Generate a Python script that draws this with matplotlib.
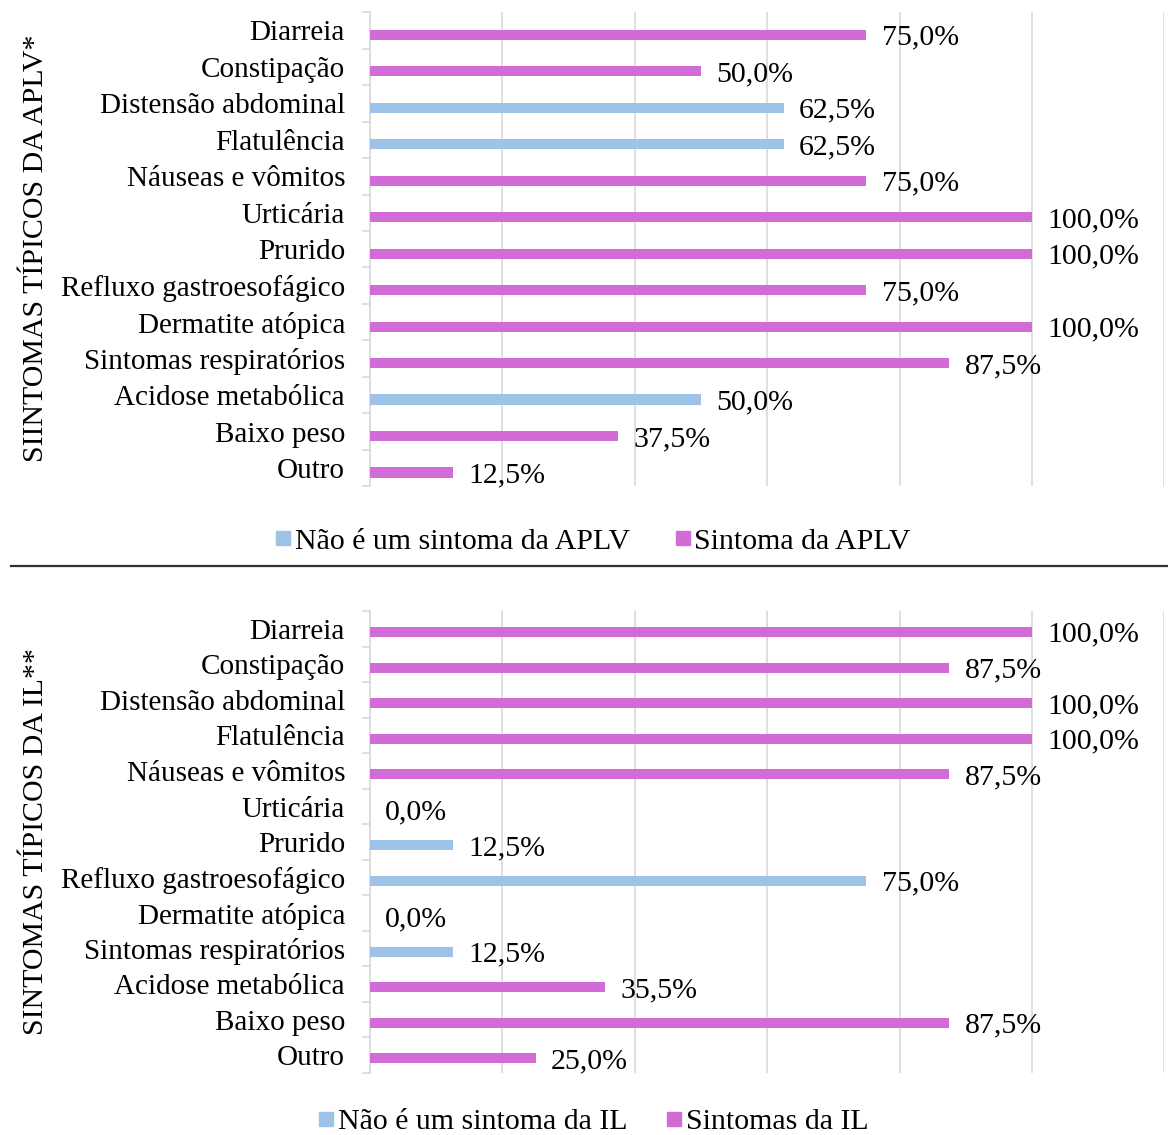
import matplotlib.pyplot as plt
from matplotlib.lines import Line2D
import numpy as np

plt.rcParams['font.family'] = ['Liberation Serif', 'DejaVu Serif']

# -------- Data --------
sintomas = ["Diarreia", "Constipação", "Distensão abdominal", "Flatulência",
            "Náuseas e vômitos", "Urticária", "Prurido", "Refluxo gastroesofágico",
            "Dermatite atópica", "Sintomas respiratórios", "Acidose metabólica",
            "Baixo peso", "Outro"]

aplv_pct = [75.0, 50.0, 62.5, 62.5, 75.0, 100.0, 100.0, 75.0, 100.0, 87.5, 50.0, 37.5, 12.5]
aplv_e_sintoma = [True, True, False, False, True, True, True, True, True, True, False, True, True]

il_pct = [100.0, 87.5, 100.0, 100.0, 87.5, 0.0, 12.5, 75.0, 0.0, 12.5, 35.5, 87.5, 25.0]
il_e_sintoma = [True, True, True, True, True, False, False, False, False, False, True, True, True]

cor_nao = "#9DC3E6"
cor_sim = "#D36BD7"
cor_grade = "#D9D9D9"
fs = 21.5


def fmt_pct(v):
    return f"{v:.1f}%".replace(".", ",")


def painel(ax, valores, flags, desloc):
    y = np.arange(len(sintomas))
    cores = [cor_sim if f else cor_nao for f in flags]
    # bars sit a little below the category centre, like a two-series clustered bar
    yb = y + desloc
    ax.barh(yb, valores, height=0.28, color=cores, zorder=3)
    for yi, v in zip(yb, valores):
        ax.annotate(fmt_pct(v), (v, yi), xytext=(11, -2), textcoords="offset points",
                    ha="left", va="center", fontsize=fs, zorder=4)
    ax.set_xlim(0, 120)
    ax.set_ylim(len(sintomas) - 0.5, -0.5)
    ax.set_yticks(y)
    ax.set_yticklabels(sintomas, fontsize=21)
    ax.set_yticks(np.arange(-0.5, len(sintomas)), minor=True)
    ax.tick_params(axis="y", which="major", length=0, pad=18)
    ax.tick_params(axis="y", which="minor", length=6, color=cor_grade, width=1.2)
    ax.set_xticks(np.arange(0, 121, 20))
    ax.tick_params(axis="x", length=0, labelbottom=False)
    ax.grid(axis="x", color=cor_grade, linewidth=1.2, zorder=0)
    for s in ["top", "right", "bottom"]:
        ax.spines[s].set_visible(False)
    ax.spines["left"].set_color(cor_grade)
    ax.spines["left"].set_linewidth(1.2)


fig = plt.figure(figsize=(11.68, 11.35), dpi=100)

ax1 = fig.add_axes([0.3168, 0.5714, 0.6801, 0.418])
painel(ax1, aplv_pct, aplv_e_sintoma, 0.12)
ax2 = fig.add_axes([0.3168, 0.0546, 0.6801, 0.407])
painel(ax2, il_pct, il_e_sintoma, 0.09)

fig.text(0.031, 0.7815, "SIINTOMAS TÍPICOS DA APLV*", rotation=90,
         ha="center", va="center", fontsize=fs)
fig.text(0.031, 0.259, "SINTOMAS TÍPICOS DA IL**", rotation=90,
         ha="center", va="center", fontsize=fs)


def legenda(rotulos, y, espaco):
    handles = [Line2D([], [], marker="s", linestyle="", markersize=9.5, color=c)
               for c in (cor_nao, cor_sim)]
    fig.legend(handles, rotulos, loc="center", bbox_to_anchor=(0.508, y), ncol=2,
               frameon=False, fontsize=fs, handlelength=0.5, handletextpad=0.15,
               columnspacing=espaco)


legenda(["Não é um sintoma da APLV", "Sintoma da APLV"], 0.5233, 1.5)
legenda(["Não é um sintoma da IL", "Sintomas da IL"], 0.0115, 1.3)

# separator between the two panels
fig.add_artist(Line2D([0.009, 1.0], [0.5013, 0.5013], color="#303030", linewidth=1.6))

fig.savefig("out.png", dpi=100)
